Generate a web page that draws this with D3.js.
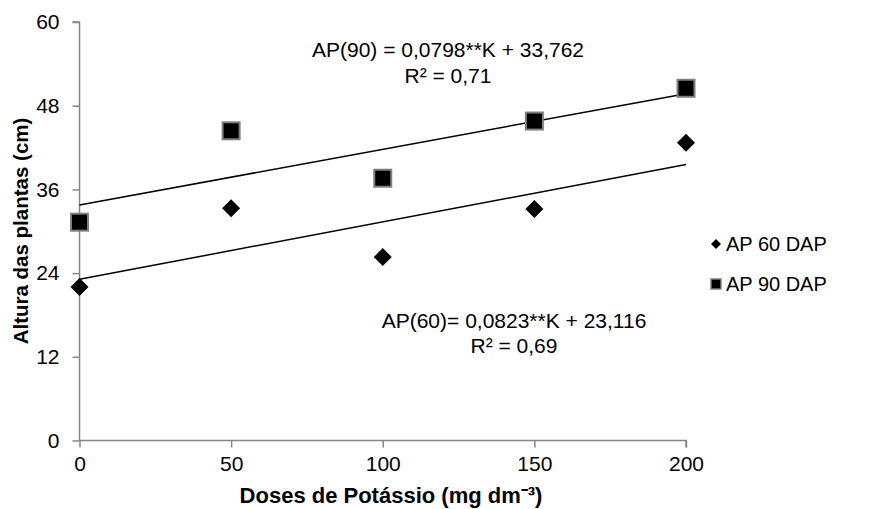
<!DOCTYPE html>
<html><head><meta charset="utf-8">
<script src="https://cdn.jsdelivr.net/npm/d3@7"></script>
<style>body{margin:0;background:#fff;} text{font-family:"Liberation Sans",Arial,sans-serif;}</style>
</head><body>
<svg id="c" width="869" height="509"></svg>
<script>
const doses = [0, 50, 100, 150, 200];
const ap60 = [22.0, 33.3, 26.3, 33.2, 42.7];
const ap90 = [31.3, 44.4, 37.6, 45.8, 50.5];
const fit60 = {slope: 0.0823, intercept: 23.116};
const fit90 = {slope: 0.0798, intercept: 33.762};
const yTicks = [0, 12, 24, 36, 48, 60];
const xTicks = [0, 50, 100, 150, 200];
const seriesNames = ["AP 60 DAP", "AP 90 DAP"];
const eq90 = ["AP(90) = 0,0798**K + 33,762", "R² = 0,71"];
const eq60 = ["AP(60)= 0,0823**K + 23,116", "R² = 0,69"];

const svg = d3.select("#c");
const x = d3.scaleLinear().domain([0, 200]).range([79.5, 686]);
const y = d3.scaleLinear().domain([0, 60]).range([440.5, 22]);
const axisColor = "#868686";
const FF = "Liberation Sans, Arial, sans-serif";

const gx = svg.append("g").attr("transform", `translate(0,${y(0)})`)
  .call(d3.axisBottom(x).tickValues(xTicks).tickSize(7).tickPadding(9).tickFormat(d3.format("d")));
const gy = svg.append("g").attr("transform", `translate(${x(0)},0)`)
  .call(d3.axisLeft(y).tickValues(yTicks).tickSize(7).tickPadding(13).tickFormat(d3.format("d")));
[gx, gy].forEach(g => {
  g.attr("font-family", FF);
  g.select(".domain").attr("stroke", axisColor).attr("stroke-width", 1.5);
  g.selectAll(".tick line").attr("stroke", axisColor).attr("stroke-width", 1.5);
  g.selectAll(".tick text").attr("fill", "#000").style("font-size", "21px").style("font-family", FF);
});
gy.select(".domain").attr("d", `M-7,${y(60)}H0V${y(0)}`);
gx.select(".domain").attr("d", `M${x(0)},0H${x(200)}V7`);

// trend lines
[fit60, fit90].forEach(f => {
  svg.append("line")
    .attr("x1", x(0)).attr("y1", y(f.intercept))
    .attr("x2", x(200)).attr("y2", y(f.intercept + f.slope * 200))
    .attr("stroke", "#000").attr("stroke-width", 1.5);
});

// AP 60 diamonds
const dsz = 9;
svg.append("g").selectAll("path").data(doses).join("path")
  .attr("d", (d, i) => `M${x(d)},${y(ap60[i]) - dsz}L${x(d) + dsz},${y(ap60[i])}L${x(d)},${y(ap60[i]) + dsz}L${x(d) - dsz},${y(ap60[i])}Z`)
  .attr("fill", "#000");

// AP 90 squares
const ssz = 17;
svg.append("g").selectAll("rect").data(doses).join("rect")
  .attr("x", d => x(d) - ssz / 2).attr("y", (d, i) => y(ap90[i]) - ssz / 2)
  .attr("width", ssz).attr("height", ssz)
  .attr("fill", "#000").attr("stroke", "#7f7f7f").attr("stroke-width", 2);

// equations
const eqs = [{lines: eq90, cx: 448, y0: 57, dy: 26}, {lines: eq60, cx: 514, y0: 328, dy: 25}];
eqs.forEach(e => {
  e.lines.forEach((t, k) => {
    svg.append("text").attr("x", e.cx).attr("y", e.y0 + k * e.dy)
      .attr("text-anchor", "middle").style("font-size", "21px").text(t);
  });
});

// axis titles
svg.append("text").attr("x", 391).attr("y", 503).attr("text-anchor", "middle")
  .style("font-size", "22px").style("font-weight", "bold").text("Doses de Potássio (mg dm⁻³)");
svg.append("text").attr("transform", "translate(28,231) rotate(-90)").attr("text-anchor", "middle")
  .style("font-size", "20.5px").style("font-weight", "bold").text("Altura das plantas (cm)");

// legend
const leg = svg.append("g");
leg.append("path").attr("d", "M716,239L721,244L716,249L711,244Z").attr("fill", "#000");
leg.append("text").attr("x", 726).attr("y", 251).style("font-size", "20px").text(seriesNames[0]);
leg.append("rect").attr("x", 711).attr("y", 279).attr("width", 10).attr("height", 10)
  .attr("fill", "#000").attr("stroke", "#7f7f7f").attr("stroke-width", 1.5);
leg.append("text").attr("x", 726).attr("y", 291).style("font-size", "20px").text(seriesNames[1]);
</script>
</body></html>
